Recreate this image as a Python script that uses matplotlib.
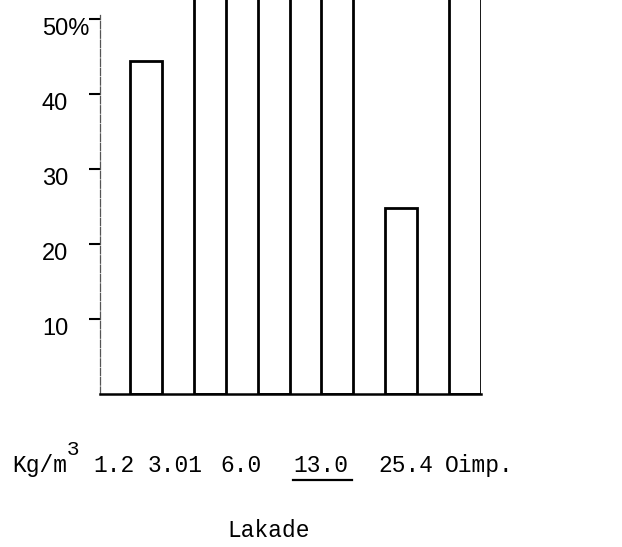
import matplotlib
matplotlib.use('Agg')
import matplotlib.pyplot as plt
import matplotlib.transforms as mtransforms

# data (bars running off the top are set above the axis limit)
categories = ['1.2', '3.01', '6.0', '13.0', '25.4', 'Oimp.']
values = [44.4, 60, 60, 60, 24.8, 60]
y_ticks = [10, 20, 30, 40, 50]
y_labels = ['10', '20', '30', '40', '50%']
unit_label = 'Kg/m'
unit_power = '3'
x_title = 'Lakade'

W, H = 622, 547


def fx(px):
    return px / W


def fy(py):
    return (H - py) / H


def main():
    fig = plt.figure(figsize=(W / 100, H / 100), dpi=100)
    ax = fig.add_axes([fx(100), fy(394), fx(481) - fx(100), fy(0) - fy(394)])

    # bars: white fill, black outline
    xs = list(range(len(categories)))
    ax.bar(xs, values, width=0.5, color='white', edgecolor='black', linewidth=2.0)

    ax.set_xlim(-0.72, 5.25)
    ax.set_ylim(0, 52.5)

    # axes look
    for side in ['top', 'right']:
        ax.spines[side].set_visible(False)
    ax.spines['left'].set_bounds(0, 50.5)
    ax.spines['left'].set_color('#555555')
    ax.spines['left'].set_linewidth(0.9)
    ax.spines['left'].set_linestyle((0, (6, 1.5)))
    ax.spines['bottom'].set_linewidth(1.8)
    ax.spines['bottom'].set_zorder(5)

    ax.set_xticks([])
    ax.set_yticks(y_ticks)
    ax.set_yticklabels([])
    ax.tick_params(axis='y', direction='out', length=8, width=1.5, color='black')

    # y tick labels, typed slightly below each tick
    trans = mtransforms.blended_transform_factory(fig.transFigure, ax.transData)
    for t, lab in zip(y_ticks, y_labels):
        ax.text(fx(42), t - 1.3, lab, transform=trans, ha='left', va='center',
                fontsize=17, family='Liberation Sans', clip_on=False)

    # typed row of concentrations under the axis
    mono = dict(family='Liberation Mono', fontsize=16.5, va='baseline')
    fig.text(fx(12), fy(472), unit_label, ha='left', **mono)
    fig.text(fx(67), fy(455), unit_power, ha='left', family='Liberation Mono',
             fontsize=15, va='baseline')
    label_x = [93, 148, 220, 293, 378, 445]
    for px, lab in zip(label_x, categories):
        fig.text(fx(px), fy(472), lab, ha='left', **mono)
        if lab == '13.0':
            fig.add_artist(plt.Line2D([fx(293), fx(352)], [fy(480), fy(480)],
                                      transform=fig.transFigure, color='black', lw=1.6))

    fig.text(fx(269), fy(537), x_title, ha='center', **mono)

    fig.savefig('out.png', dpi=100)


if __name__ == "__main__":
    main()
